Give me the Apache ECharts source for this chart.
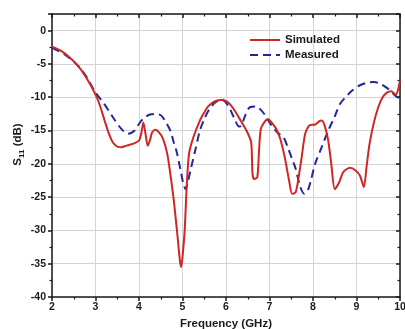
<!DOCTYPE html>
<html>
<head>
<meta charset="utf-8">
<script src="https://cdn.jsdelivr.net/npm/echarts@6/dist/echarts.min.js"></script>
<style>
  html, body { margin: 0; padding: 0; background: #fff; }
  #chart { width: 405px; height: 329px; }
</style>
</head>
<body>
<div id="chart"></div>
<script>
// Simulated reflection coefficient S11 (dB) vs frequency (GHz)
const simFreq = [2.0, 2.2, 2.4, 2.6, 2.8, 3.0, 3.1, 3.2, 3.3, 3.4, 3.5, 3.6, 3.7, 3.8, 3.9, 4.0,
  4.05, 4.1, 4.15, 4.2, 4.25, 4.3, 4.37, 4.45, 4.55, 4.65, 4.72, 4.8, 4.88, 4.94, 4.97, 5.0,
  5.05, 5.1, 5.15, 5.25, 5.4, 5.5, 5.6, 5.75, 5.9, 6.0, 6.1, 6.2, 6.3, 6.4, 6.5, 6.58, 6.61,
  6.65, 6.72, 6.76, 6.8, 6.9, 6.97, 7.05, 7.15, 7.25, 7.35, 7.45, 7.52, 7.6, 7.67, 7.74, 7.82,
  7.92, 8.05, 8.15, 8.2, 8.27, 8.35, 8.42, 8.5, 8.6, 8.7, 8.85, 8.98, 9.08, 9.17, 9.23, 9.3,
  9.4, 9.5, 9.6, 9.7, 9.8, 9.9, 9.95, 10.0];
const simS11 = [-2.4, -3.0, -4.0, -5.3, -7.2, -9.6, -11.2, -13.3, -15.3, -16.8, -17.4, -17.5, -17.3, -17.1, -16.9, -16.5,
  -15.5, -13.8, -15.5, -17.3, -16.5, -15.3, -14.9, -15.2, -16.2, -18.5, -21.5, -25.5, -30.5, -34.5, -35.5, -34.0,
  -30.0, -23.0, -18.5, -16.0, -13.5, -12.3, -11.3, -10.6, -10.4, -10.6, -11.1, -12.0, -13.1, -14.2, -15.4, -16.8, -21.5,
  -22.3, -22.0, -18.0, -14.8, -13.6, -13.3, -13.8, -14.7, -16.3, -19.0, -22.5, -24.5, -24.3, -22.0, -19.0, -15.5,
  -14.2, -14.1, -13.6, -13.5, -14.3, -16.5, -20.0, -23.8, -22.8, -21.2, -20.6, -21.0, -21.8, -23.5, -20.5, -17.0,
  -13.8, -11.5, -10.0, -9.3, -9.1, -9.6, -9.0, -7.5];

// Measured S11 (dB)
const measFreq = [2.0, 2.3, 2.6, 2.8, 3.0, 3.2, 3.4, 3.6, 3.75, 3.9, 4.0, 4.1, 4.25, 4.4, 4.52, 4.62,
  4.72, 4.8, 4.87, 4.95, 5.02, 5.07, 5.12, 5.2, 5.3, 5.4, 5.5, 5.6, 5.75, 5.9, 6.0, 6.1, 6.2,
  6.3, 6.35, 6.45, 6.55, 6.7, 6.8, 6.9, 7.05, 7.2, 7.32, 7.43, 7.52, 7.6, 7.7, 7.8, 7.88, 7.95,
  8.05, 8.2, 8.35, 8.5, 8.62, 8.75, 8.9, 9.08, 9.25, 9.4, 9.55, 9.7, 9.82, 9.92, 10.0];
const measS11 = [-2.6, -3.6, -5.3, -7.0, -9.3, -11.0, -13.0, -14.8, -15.5, -15.0, -14.0, -13.2, -12.6, -12.5, -12.8, -13.8,
  -15.0, -16.8, -18.3, -20.8, -23.0, -23.8, -22.8, -20.5, -17.8, -15.0, -13.3, -12.0, -10.8, -10.3, -10.8, -11.9, -13.3,
  -14.4, -14.3, -12.6, -11.5, -11.4, -11.9, -12.7, -14.3, -15.4, -16.0, -17.7, -19.3, -20.7, -23.3, -24.5, -24.0, -22.5,
  -20.0, -17.5, -15.0, -12.9, -11.0, -10.0, -9.0, -8.2, -7.8, -7.7, -8.0, -8.6, -9.3, -9.9, -10.2];

const xTicks = [2, 3, 4, 5, 6, 7, 8, 9, 10];
const yTicks = [-40, -35, -30, -25, -20, -15, -10, -5, 0];

const pairs = (xs, ys) => xs.map((x, i) => [x, ys[i]]);

const FONT = '"Liberation Sans", Arial, sans-serif';
const INK = '#1a1a1a';
const GRID = '#d4d4d4';
const RED = '#cf2626';
const BLUE = '#23279a';

const chart = echarts.init(document.getElementById('chart'), null, { renderer: 'canvas' });

const baseX = {
  type: 'value', min: 2, max: 10, interval: 1,
  axisLine: { show: true, onZero: false, lineStyle: { color: INK, width: 1.5 } },
  minorTick: { show: true, splitNumber: 2, length: 2.5, lineStyle: { color: INK, width: 1.2 } },
  axisTick: { length: 4, lineStyle: { color: INK, width: 1.5 } }
};
const baseY = {
  type: 'value', min: -40, max: 2.5, interval: 5,
  axisLine: { show: true, onZero: false, lineStyle: { color: INK, width: 1.5 } },
  minorTick: { show: true, splitNumber: 2, length: 2.5, lineStyle: { color: INK, width: 1.2 } },
  axisTick: { length: 4, lineStyle: { color: INK, width: 1.5 } }
};

chart.setOption({
  animation: false,
  backgroundColor: '#fff',
  grid: { left: 52, right: 5, top: 14, bottom: 32, containLabel: false, outerBoundsMode: 'none' },
  legend: {
    left: 244, top: 29, orient: 'vertical',
    itemWidth: 30, itemHeight: 12, itemGap: 3,
    itemStyle: { opacity: 0 },
    textStyle: { fontFamily: FONT, fontWeight: 'bold', fontSize: 11.5, color: INK },
    data: ['Simulated', 'Measured']
  },
  xAxis: [
    Object.assign({}, baseX, {
      position: 'bottom',
      name: 'Frequency (GHz)', nameLocation: 'middle', nameGap: 19,
      nameTextStyle: { fontFamily: FONT, fontWeight: 'bold', fontSize: 11.5, color: INK },
      axisLabel: {
        fontFamily: FONT, fontWeight: 'bold', fontSize: 10.5, color: INK, margin: 5,
        formatter: v => xTicks.includes(v) ? String(v) : ''
      },
      splitLine: { show: true, lineStyle: { color: GRID, width: 1 } }
    }),
    Object.assign({}, baseX, {
      position: 'top',
      axisTick: Object.assign({}, baseX.axisTick, { inside: true }),
      minorTick: Object.assign({}, baseX.minorTick, { inside: true }),
      axisLabel: { show: false },
      splitLine: { show: false }
    })
  ],
  yAxis: [
    Object.assign({}, baseY, {
      position: 'left',
      name: '{t|S}{s|11}{t| (dB)}', nameLocation: 'middle', nameGap: 26,
      nameMoveOverlap: false,
      nameTextStyle: {
        padding: [0, 0, 0, 22],
        rich: {
          t: { fontFamily: FONT, fontWeight: 'bold', fontSize: 11.5, color: INK, lineHeight: 16 },
          s: { fontFamily: FONT, fontWeight: 'bold', fontSize: 8, color: INK, lineHeight: 16, verticalAlign: 'bottom', padding: [6, 0, 0, 0] }
        }
      },
      axisLabel: {
        fontFamily: FONT, fontWeight: 'bold', fontSize: 10.5, color: INK, margin: 6,
        formatter: v => yTicks.includes(v) ? String(v) : ''
      },
      splitLine: { show: true, lineStyle: { color: GRID, width: 1 } }
    }),
    Object.assign({}, baseY, {
      position: 'right',
      axisTick: Object.assign({}, baseY.axisTick, { inside: true }),
      minorTick: Object.assign({}, baseY.minorTick, { inside: true }),
      axisLabel: { show: false },
      splitLine: { show: false }
    })
  ],
  series: [
    {
      name: 'Simulated', type: 'line', xAxisIndex: 0, yAxisIndex: 0,
      data: pairs(simFreq, simS11), symbol: 'none', showSymbol: false, smooth: 0.25,
      lineStyle: { color: RED, width: 2 }, itemStyle: { color: RED }, z: 3
    },
    {
      name: 'Measured', type: 'line', xAxisIndex: 0, yAxisIndex: 0,
      data: pairs(measFreq, measS11), symbol: 'none', showSymbol: false, smooth: 0.3,
      lineStyle: { color: BLUE, width: 2, type: [8, 5] }, itemStyle: { color: BLUE }, z: 2
    }
  ]
});
</script>
</body>
</html>
